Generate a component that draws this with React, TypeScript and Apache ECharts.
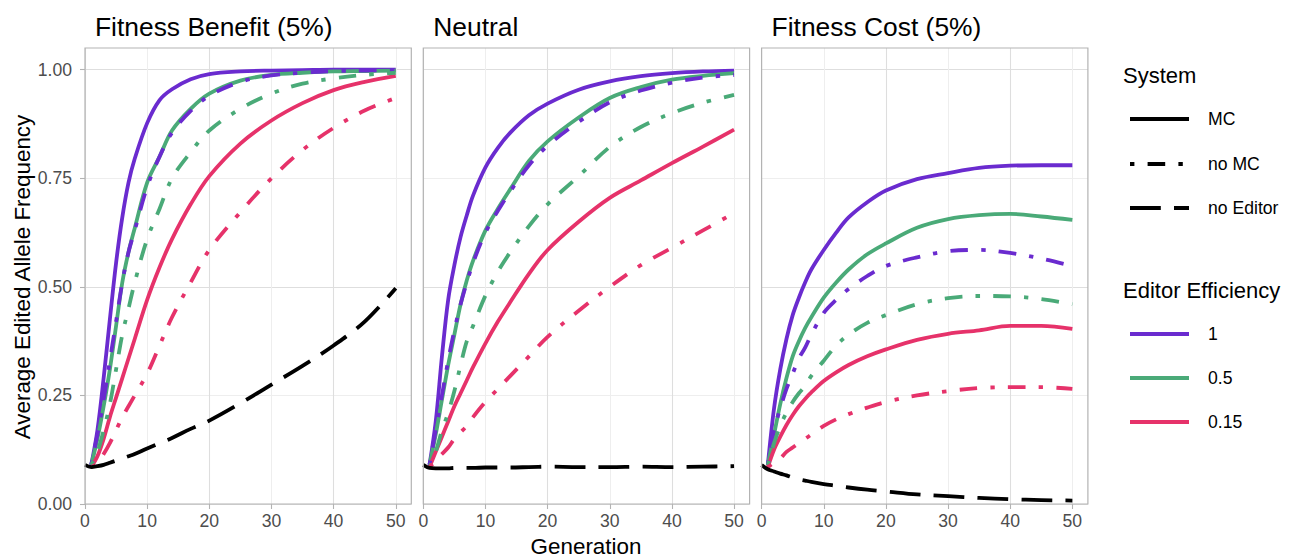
import React, { useEffect, useRef } from "react";
import * as echarts from "echarts";

// ---------- data ----------
const GENERATIONS = [0, 1, 2, 3, 4, 5, 6, 7, 8, 10, 12, 14, 17, 20, 25, 30, 35, 40, 45, 50];
const PANEL_TITLES = ["Fitness Benefit (5%)", "Neutral", "Fitness Cost (5%)"];
const X_TICKS = [0, 10, 20, 30, 40, 50];
const Y_TICKS = [0, 0.25, 0.5, 0.75, 1];
const SYSTEMS = ["MC", "no MC", "no Editor"];
const EFFICIENCIES = ["1", "0.5", "0.15"];

// Fitness Benefit (5%)
const BENEFIT_MC_1 = [null, 0.09, 0.17, 0.29, 0.425, 0.555, 0.66, 0.74, 0.795, 0.877, 0.93, 0.955, 0.978, 0.99, 0.996, 0.998, 0.999, 1, 1, 1];
const BENEFIT_MC_05 = [null, 0.09, 0.15, 0.225, 0.31, 0.41, 0.51, 0.58, 0.635, 0.74, 0.8, 0.86, 0.91, 0.945, 0.975, 0.988, 0.993, 0.996, 0.997, 0.998];
const BENEFIT_MC_015 = [null, 0.085, 0.11, 0.15, 0.2, 0.245, 0.29, 0.335, 0.38, 0.47, 0.545, 0.61, 0.69, 0.755, 0.83, 0.883, 0.923, 0.953, 0.972, 0.986];
const BENEFIT_NOMC_1 = [null, 0.09, 0.16, 0.24, 0.33, 0.42, 0.51, 0.58, 0.63, 0.73, 0.8, 0.855, 0.905, 0.94, 0.972, 0.987, 0.993, 0.997, 0.998, 0.999];
const BENEFIT_NOMC_05 = [null, 0.09, 0.12, 0.17, 0.23, 0.31, 0.39, 0.45, 0.51, 0.61, 0.68, 0.75, 0.81, 0.86, 0.91, 0.945, 0.968, 0.98, 0.988, 0.993];
const BENEFIT_NOMC_015 = [null, 0.085, 0.095, 0.115, 0.14, 0.17, 0.2, 0.225, 0.25, 0.3, 0.365, 0.43, 0.51, 0.585, 0.672, 0.75, 0.815, 0.866, 0.906, 0.935];
const BENEFIT_NOEDITOR = [0.09, 0.085, 0.087, 0.09, 0.095, 0.1, 0.105, 0.11, 0.115, 0.128, 0.14, 0.152, 0.173, 0.192, 0.232, 0.275, 0.318, 0.365, 0.42, 0.497];

// Neutral
const NEUTRAL_MC_1 = [null, 0.09, 0.19, 0.34, 0.47, 0.55, 0.615, 0.665, 0.71, 0.775, 0.82, 0.855, 0.895, 0.922, 0.954, 0.973, 0.985, 0.992, 0.996, 0.998];
const NEUTRAL_MC_05 = [null, 0.09, 0.16, 0.24, 0.32, 0.39, 0.46, 0.515, 0.56, 0.63, 0.68, 0.725, 0.79, 0.835, 0.89, 0.935, 0.96, 0.977, 0.986, 0.992];
const NEUTRAL_MC_015 = [null, 0.085, 0.12, 0.155, 0.19, 0.225, 0.255, 0.285, 0.315, 0.37, 0.42, 0.465, 0.53, 0.585, 0.65, 0.705, 0.745, 0.785, 0.823, 0.862];
const NEUTRAL_NOMC_1 = [null, 0.09, 0.17, 0.25, 0.33, 0.4, 0.46, 0.51, 0.555, 0.625, 0.675, 0.72, 0.78, 0.825, 0.88, 0.925, 0.952, 0.97, 0.982, 0.988];
const NEUTRAL_NOMC_05 = [null, 0.085, 0.12, 0.17, 0.21, 0.26, 0.32, 0.375, 0.41, 0.48, 0.535, 0.58, 0.64, 0.69, 0.755, 0.822, 0.868, 0.9, 0.924, 0.942];
const NEUTRAL_NOMC_015 = [null, 0.085, 0.1, 0.115, 0.13, 0.15, 0.165, 0.18, 0.2, 0.235, 0.265, 0.295, 0.34, 0.385, 0.445, 0.5, 0.55, 0.59, 0.63, 0.67];
const NEUTRAL_NOEDITOR = [0.09, 0.083, 0.082, 0.082, 0.082, 0.083, 0.083, 0.083, 0.083, 0.084, 0.084, 0.084, 0.085, 0.086, 0.085, 0.085, 0.086, 0.085, 0.086, 0.087];

// Fitness Cost (5%)
const COST_MC_1 = [null, 0.09, 0.22, 0.31, 0.38, 0.435, 0.475, 0.51, 0.54, 0.585, 0.625, 0.66, 0.695, 0.722, 0.748, 0.762, 0.774, 0.779, 0.78, 0.78];
const COST_MC_05 = [null, 0.09, 0.16, 0.23, 0.29, 0.34, 0.375, 0.405, 0.43, 0.475, 0.51, 0.54, 0.575, 0.6, 0.636, 0.656, 0.665, 0.668, 0.662, 0.654];
const COST_MC_015 = [null, 0.085, 0.125, 0.155, 0.182, 0.205, 0.225, 0.242, 0.257, 0.283, 0.303, 0.32, 0.34, 0.356, 0.378, 0.392, 0.4, 0.41, 0.41, 0.403];
const COST_NOMC_1 = [null, 0.09, 0.17, 0.22, 0.265, 0.3, 0.335, 0.36, 0.39, 0.44, 0.47, 0.495, 0.525, 0.548, 0.568, 0.582, 0.585, 0.578, 0.565, 0.548];
const COST_NOMC_05 = [null, 0.09, 0.14, 0.18, 0.21, 0.235, 0.255, 0.272, 0.295, 0.33, 0.365, 0.39, 0.417, 0.435, 0.46, 0.474, 0.479, 0.478, 0.472, 0.46];
const COST_NOMC_015 = [null, 0.085, 0.095, 0.105, 0.12, 0.13, 0.14, 0.15, 0.16, 0.18, 0.195, 0.207, 0.222, 0.235, 0.25, 0.26, 0.267, 0.269, 0.269, 0.265];
const COST_NOEDITOR = [0.09, 0.08, 0.075, 0.07, 0.066, 0.061, 0.057, 0.054, 0.051, 0.046, 0.042, 0.038, 0.033, 0.029, 0.022, 0.018, 0.014, 0.011, 0.009, 0.008];

const PANELS = [
  [
    { system: "MC", eff: "1", values: BENEFIT_MC_1 },
    { system: "MC", eff: "0.5", values: BENEFIT_MC_05 },
    { system: "MC", eff: "0.15", values: BENEFIT_MC_015 },
    { system: "no MC", eff: "1", values: BENEFIT_NOMC_1 },
    { system: "no MC", eff: "0.5", values: BENEFIT_NOMC_05 },
    { system: "no MC", eff: "0.15", values: BENEFIT_NOMC_015 },
    { system: "no Editor", eff: null, values: BENEFIT_NOEDITOR },
  ],
  [
    { system: "MC", eff: "1", values: NEUTRAL_MC_1 },
    { system: "MC", eff: "0.5", values: NEUTRAL_MC_05 },
    { system: "MC", eff: "0.15", values: NEUTRAL_MC_015 },
    { system: "no MC", eff: "1", values: NEUTRAL_NOMC_1 },
    { system: "no MC", eff: "0.5", values: NEUTRAL_NOMC_05 },
    { system: "no MC", eff: "0.15", values: NEUTRAL_NOMC_015 },
    { system: "no Editor", eff: null, values: NEUTRAL_NOEDITOR },
  ],
  [
    { system: "MC", eff: "1", values: COST_MC_1 },
    { system: "MC", eff: "0.5", values: COST_MC_05 },
    { system: "MC", eff: "0.15", values: COST_MC_015 },
    { system: "no MC", eff: "1", values: COST_NOMC_1 },
    { system: "no MC", eff: "0.5", values: COST_NOMC_05 },
    { system: "no MC", eff: "0.15", values: COST_NOMC_015 },
    { system: "no Editor", eff: null, values: COST_NOEDITOR },
  ],
];

// ---------- styles ----------
const FONT = "'Liberation Sans', Arial, Helvetica, sans-serif";
const EFF_COLORS: Record<string, string> = { "1": "#6a2bcf", "0.5": "#4aaa78", "0.15": "#e6326a" };
const DASHES: Record<string, any> = {
  MC: "solid",
  "no MC": [4.4, 13.2, 17.6, 13.2],
  "no Editor": [30.8, 13.2],
};
const PANEL_LEFT = [85, 423.3, 761.6];
const PANEL_TOP = 48;
const PANEL_W = 326.3;
const PANEL_H = 456;

function buildOption() {
  const grid = PANEL_LEFT.map((l) => ({
    left: l,
    top: PANEL_TOP,
    width: PANEL_W,
    height: PANEL_H,
    show: false,
  }));
  const xAxis = PANEL_LEFT.map((_, i) => ({
    type: "value",
    gridIndex: i,
    min: 0,
    max: 52.5,
    interval: 5,
    axisLine: { show: false },
    axisTick: {
      show: true,
      customValues: X_TICKS,
      length: 5,
      lineStyle: { color: "#b3b3b3", width: 1.1 },
    },
    axisLabel: {
      customValues: X_TICKS,
      color: "#4d4d4d",
      fontSize: 17.6,
      fontFamily: FONT,
      margin: 8,
    },
    splitLine: { show: true, lineStyle: { color: ["#dedede", "#eeeeee"], width: 1.1 } },
  }));
  const yAxis = PANEL_LEFT.map((_, i) => ({
    type: "value",
    gridIndex: i,
    min: 0,
    max: 1.05,
    interval: 0.125,
    axisLine: { show: false },
    axisTick: {
      show: i === 0,
      customValues: Y_TICKS,
      length: 5,
      lineStyle: { color: "#b3b3b3", width: 1.1 },
    },
    axisLabel: {
      show: i === 0,
      customValues: Y_TICKS,
      formatter: (v: number) => v.toFixed(2),
      color: "#4d4d4d",
      fontSize: 17.6,
      fontFamily: FONT,
      margin: 13,
    },
    splitLine: { show: true, lineStyle: { color: ["#dedede", "#eeeeee"], width: 1.1 } },
  }));

  const series: any[] = [];
  PANELS.forEach((panel, pi) => {
    panel.forEach((s) => {
      const data: any[] = [];
      GENERATIONS.forEach((g, k) => {
        const v = s.values[k];
        if (v !== null && v !== undefined) data.push([g, v]);
      });
      series.push({
        type: "line",
        name: s.system + (s.eff ? " " + s.eff : ""),
        xAxisIndex: pi,
        yAxisIndex: pi,
        data,
        showSymbol: false,
        smooth: 0.35,
        silent: true,
        lineStyle: {
          color: s.eff ? EFF_COLORS[s.eff] : "#000000",
          width: 3.8,
          type: DASHES[s.system],
          cap: "butt",
          join: "round",
        },
      });
    });
  });

  const graphic: any[] = [];
  // panel borders and strip titles
  PANEL_LEFT.forEach((l, i) => {
    graphic.push({
      type: "rect",
      z: 50,
      silent: true,
      shape: { x: l, y: PANEL_TOP, width: PANEL_W, height: PANEL_H },
      style: { fill: null, stroke: "#b3b3b3", lineWidth: 1.2 },
    });
    graphic.push({
      type: "text",
      x: l + 10,
      y: 27,
      style: {
        text: PANEL_TITLES[i],
        fontSize: 26.4,
        fontFamily: FONT,
        fill: "#000000",
        align: "left",
        verticalAlign: "middle",
      },
    });
  });
  // axis titles
  graphic.push({
    type: "text",
    x: 22,
    y: 277,
    rotation: Math.PI / 2,
    style: {
      text: "Average Edited Allele Frequency",
      fontSize: 22.4,
      fontFamily: FONT,
      fill: "#000000",
      align: "center",
      verticalAlign: "middle",
    },
  });
  graphic.push({
    type: "text",
    x: 586,
    y: 546,
    style: {
      text: "Generation",
      fontSize: 22.4,
      fontFamily: FONT,
      fill: "#000000",
      align: "center",
      verticalAlign: "middle",
    },
  });
  // legends
  const LX1 = 1130;
  const LX2 = 1189;
  const LTX = 1208;
  graphic.push({
    type: "text",
    x: 1123,
    y: 75,
    style: { text: "System", fontSize: 22, fontFamily: FONT, fill: "#000", align: "left", verticalAlign: "middle" },
  });
  const sysY = [119, 164, 208];
  SYSTEMS.forEach((s, i) => {
    graphic.push({
      type: "line",
      shape: { x1: LX1, y1: sysY[i], x2: LX2, y2: sysY[i] },
      style: {
        stroke: "#000000",
        lineWidth: 4,
        lineDash: DASHES[s] === "solid" ? null : DASHES[s],
        lineCap: "butt",
      },
    });
    graphic.push({
      type: "text",
      x: LTX,
      y: sysY[i],
      style: { text: s, fontSize: 17.6, fontFamily: FONT, fill: "#000", align: "left", verticalAlign: "middle" },
    });
  });
  graphic.push({
    type: "text",
    x: 1123,
    y: 290,
    style: { text: "Editor Efficiency", fontSize: 22, fontFamily: FONT, fill: "#000", align: "left", verticalAlign: "middle" },
  });
  const effY = [334, 378, 422];
  EFFICIENCIES.forEach((e, i) => {
    graphic.push({
      type: "line",
      shape: { x1: LX1, y1: effY[i], x2: LX2, y2: effY[i] },
      style: { stroke: EFF_COLORS[e], lineWidth: 4, lineCap: "butt" },
    });
    graphic.push({
      type: "text",
      x: LTX,
      y: effY[i],
      style: { text: e, fontSize: 17.6, fontFamily: FONT, fill: "#000", align: "left", verticalAlign: "middle" },
    });
  });

  return {
    animation: false,
    backgroundColor: "#ffffff",
    textStyle: { fontFamily: FONT },
    grid,
    xAxis,
    yAxis,
    series,
    graphic,
  };
}

export default function App() {
  const ref = useRef<HTMLDivElement>(null);
  useEffect(() => {
    if (!ref.current) return;
    const chart = echarts.init(ref.current, undefined, { renderer: "svg" });
    chart.setOption(buildOption() as any);
    return () => chart.dispose();
  }, []);
  return (
    <div
      ref={ref}
      style={{ position: "fixed", left: 0, top: 0, width: 1300, height: 558, background: "#fff" }}
    />
  );
}
